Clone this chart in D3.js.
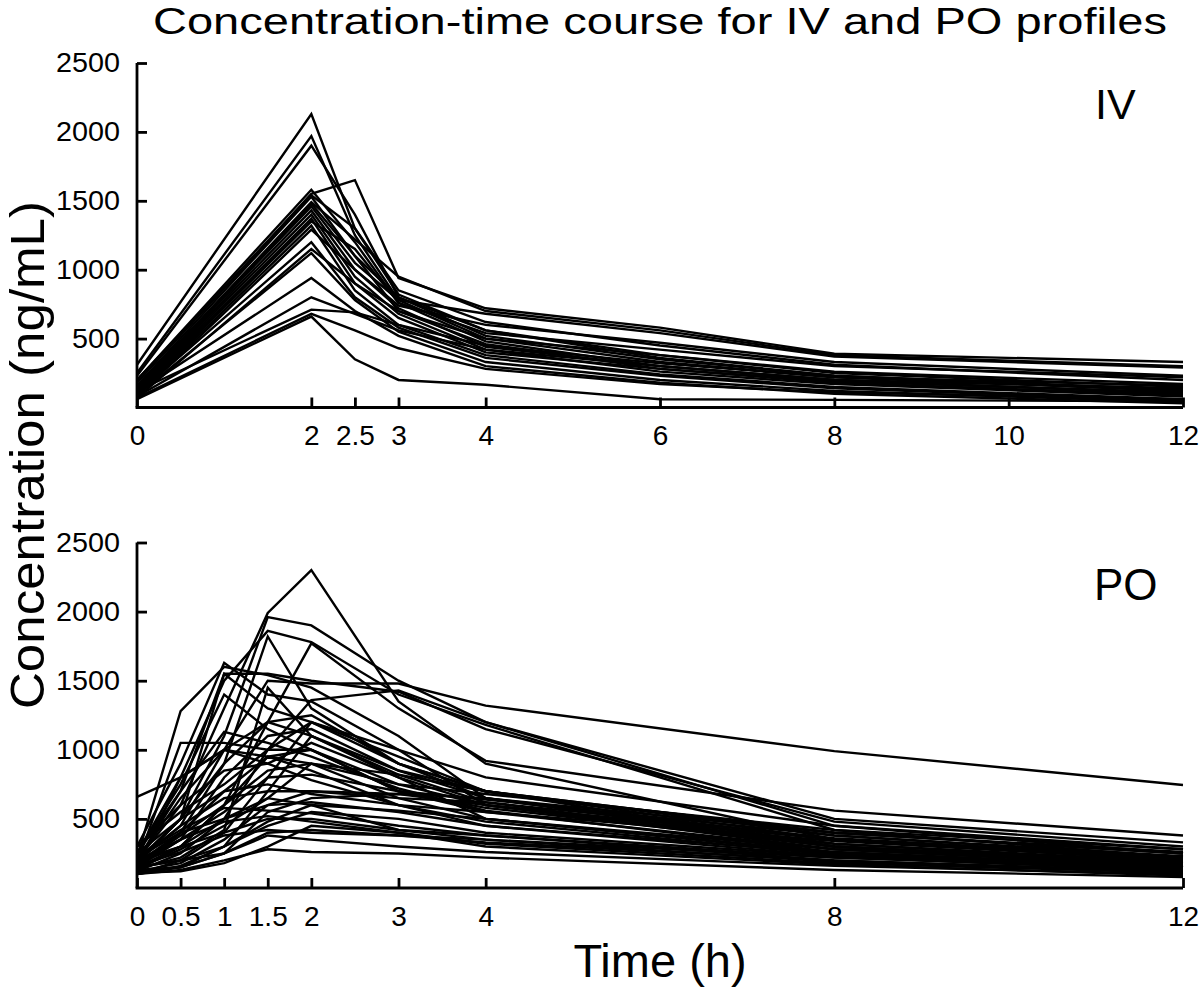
<!DOCTYPE html>
<html>
<head>
<meta charset="utf-8">
<script src="https://cdn.jsdelivr.net/npm/d3@7"></script>
<style>
  html, body { margin: 0; padding: 0; background: #fff; }
  svg { display: block; font-family: "Liberation Sans", Arial, sans-serif; }
</style>
</head>
<body>
<svg id="chart" width="1200" height="989"></svg>
<script>
// ---------- DATA ----------
const chartTitle = "Concentration-time course for IV and PO profiles";
const yLabel = "Concentration (ng/mL)";
const xLabel = "Time (h)";

const ivTicksX = [0, 2, 2.5, 3, 4, 6, 8, 10, 12];
const poTicksX = [0, 0.5, 1, 1.5, 2, 3, 4, 8, 12];
const yTicks = [500, 1000, 1500, 2000, 2500];

const ivTimes = [0, 2, 2.5, 3, 4, 6, 8, 12];
const ivConc = [
  [310, 2130, 1300, 820, 560, 380, 250, 150],
  [250, 1970, 1250, 780, 500, 330, 220, 120],
  [230, 1900, 1400, 800, 520, 350, 230, 130],
  [200, 1580, 1200, 760, 480, 300, 200, 100],
  [180, 1550, 1650, 940, 720, 580, 390, 330],
  [160, 1530, 1100, 700, 460, 280, 180, 90],
  [150, 1490, 1220, 950, 700, 560, 380, 300],
  [140, 1460, 1050, 780, 680, 540, 370, 290],
  [130, 1430, 1000, 720, 440, 300, 200, 100],
  [120, 1400, 950, 680, 420, 260, 170, 80],
  [110, 1370, 900, 650, 400, 280, 190, 110],
  [100, 1350, 1150, 760, 540, 420, 300, 220],
  [90, 1320, 850, 600, 380, 240, 150, 60],
  [80, 1290, 1000, 740, 600, 470, 330, 230],
  [100, 1200, 800, 580, 360, 230, 140, 50],
  [70, 1150, 900, 700, 500, 380, 260, 170],
  [90, 1120, 780, 550, 330, 200, 120, 40],
  [110, 940, 700, 520, 300, 180, 100, 30],
  [80, 800, 680, 560, 420, 300, 200, 140],
  [120, 710, 690, 600, 450, 320, 220, 160],
  [70, 680, 560, 430, 280, 170, 110, 60],
  [60, 660, 350, 200, 165, 60, 55, 45],
  [130, 1480, 1100, 800, 560, 360, 230, 120],
  [200, 1540, 1300, 850, 620, 450, 310, 200]
];

const poTimes = [0, 0.5, 1, 1.5, 2, 3, 4, 8, 12];
const poConc = [
  [200, 600, 1300, 1990, 2300, 1350, 900, 350, 200],
  [180, 500, 1100, 1960, 1900, 1500, 1200, 450, 250],
  [250, 800, 1500, 1860, 1780, 1400, 1180, 420, 220],
  [150, 400, 900, 1820, 1300, 900, 700, 300, 150],
  [220, 1280, 1600, 1540, 1450, 1100, 650, 320, 180],
  [300, 900, 1630, 1400, 1350, 1000, 600, 280, 160],
  [660, 800, 1000, 1500, 1480, 1480, 1320, 990, 745],
  [200, 700, 1550, 1550, 1500, 1420, 1150, 480, 300],
  [150, 300, 600, 1200, 1770, 1300, 920, 560, 380],
  [120, 250, 500, 1000, 1360, 1430, 1200, 500, 330],
  [180, 1050, 1050, 1000, 1000, 700, 580, 300, 180],
  [250, 700, 1130, 1050, 950, 720, 560, 260, 150],
  [200, 500, 900, 1200, 1250, 900, 700, 400, 250],
  [100, 200, 400, 800, 1200, 1000, 800, 450, 280],
  [150, 350, 800, 1100, 1150, 850, 650, 350, 200],
  [300, 600, 850, 900, 1050, 800, 600, 320, 190],
  [180, 400, 700, 950, 1000, 700, 550, 280, 160],
  [130, 300, 600, 850, 900, 650, 500, 250, 140],
  [200, 450, 650, 700, 700, 680, 650, 400, 260],
  [150, 200, 300, 700, 1100, 850, 700, 380, 220],
  [250, 500, 700, 750, 680, 600, 550, 340, 200],
  [100, 150, 250, 550, 650, 680, 600, 350, 210],
  [180, 300, 500, 600, 620, 550, 450, 250, 130],
  [120, 150, 300, 450, 550, 500, 400, 230, 120],
  [200, 300, 400, 500, 500, 420, 380, 200, 110],
  [150, 200, 250, 400, 420, 380, 350, 220, 140],
  [100, 130, 200, 280, 260, 250, 220, 130, 80],
  [130, 150, 250, 380, 350, 300, 260, 160, 100],
  [110, 120, 180, 300, 450, 400, 320, 180, 110],
  [220, 400, 500, 650, 600, 420, 350, 190, 120],
  [170, 350, 550, 800, 820, 700, 640, 380, 230],
  [140, 280, 450, 650, 900, 750, 680, 420, 280],
  [300, 550, 750, 1000, 1200, 900, 650, 300, 170],
  [160, 380, 600, 950, 850, 600, 450, 230, 140],
  [200, 650, 1000, 900, 780, 600, 480, 240, 150],
  [120, 180, 350, 600, 700, 650, 620, 360, 220],
  [250, 750, 1400, 1150, 1000, 750, 600, 300, 170],
  [180, 500, 1550, 1300, 1200, 950, 700, 350, 200],
  [140, 220, 420, 1450, 1100, 820, 620, 300, 160],
  [100, 160, 300, 480, 600, 560, 500, 280, 170],
  [200, 350, 480, 520, 480, 400, 300, 170, 90],
  [230, 420, 580, 560, 540, 450, 380, 220, 130],
  [160, 260, 380, 420, 400, 380, 330, 200, 120],
  [150, 800, 1000, 950, 900, 820, 700, 400, 250],
  [190, 450, 1000, 1200, 1100, 800, 500, 260, 150]
];

// ---------- LAYOUT ----------
const svg = d3.select("#chart");
const left = 137, right = 1183;
const panels = [
  { name: "IV", times: ivTimes, conc: ivConc, ticks: ivTicksX, top: 63, bottom: 407.5,
    labelX: 1095, labelY: 119, labelSize: 43 },
  { name: "PO", times: poTimes, conc: poConc, ticks: poTicksX, top: 542.5, bottom: 888,
    labelX: 1094, labelY: 600, labelSize: 44 }
];

const x = d3.scaleLinear().domain([0, 12]).range([left, right]);

panels.forEach(p => {
  const y = d3.scaleLinear().domain([0, 2500]).range([p.bottom, p.top]);
  const g = svg.append("g");

  const line = d3.line().x(d => x(d[0])).y(d => y(d[1]));
  g.append("g").selectAll("path")
    .data(p.conc.map(row => row.map((c, i) => [p.times[i], c])))
    .join("path")
    .attr("d", line)
    .attr("fill", "none")
    .attr("stroke", "#000")
    .attr("stroke-width", 2.4)
    .attr("stroke-linejoin", "miter");

  // y axis
  const yAxis = d3.axisLeft(y).tickValues(yTicks).tickSizeInner(-10).tickSizeOuter(0)
    .tickPadding(17).tickFormat(d3.format("d"));
  const ya = g.append("g").attr("transform", `translate(${left},0)`).call(yAxis);
  ya.select(".domain").attr("stroke-width", 2.8).attr("d", `M0,${p.bottom}V${p.top}`);
  ya.selectAll(".tick line").attr("stroke-width", 2.8);
  ya.selectAll(".tick text")
    .attr("font-size", 28)
    .attr("font-family", "Liberation Sans, Arial, sans-serif")
    .attr("fill", "#000")
    .attr("textLength", d => String(d).length * 16)
    .attr("lengthAdjust", "spacingAndGlyphs");

  // x axis
  const xAxis = d3.axisBottom(x).tickValues(p.ticks).tickSizeInner(-10).tickSizeOuter(0)
    .tickPadding(18).tickFormat(d => String(d));
  const xa = g.append("g").attr("transform", `translate(0,${p.bottom})`).call(xAxis);
  xa.select(".domain").attr("stroke-width", 2.8).attr("d", `M${left - 1.4},0H${right}`);
  xa.selectAll(".tick line").attr("stroke-width", 2.8);
  xa.selectAll(".tick text")
    .attr("font-size", 28)
    .attr("font-family", "Liberation Sans, Arial, sans-serif")
    .attr("fill", "#000");

  g.append("text")
    .attr("x", p.labelX).attr("y", p.labelY)
    .attr("font-size", p.labelSize)
    .attr("fill", "#000")
    .text(p.name);
});

// title
svg.append("text")
  .attr("x", 153).attr("y", 34)
  .attr("font-size", 37)
  .attr("textLength", 1014)
  .attr("lengthAdjust", "spacingAndGlyphs")
  .attr("fill", "#000")
  .text(chartTitle);

// y label
svg.append("text")
  .attr("transform", "translate(44,455) rotate(-90)")
  .attr("text-anchor", "middle")
  .attr("font-size", 48)
  .attr("textLength", 508)
  .attr("lengthAdjust", "spacingAndGlyphs")
  .attr("fill", "#000")
  .text(yLabel);

// x label
svg.append("text")
  .attr("x", 660).attr("y", 977)
  .attr("text-anchor", "middle")
  .attr("font-size", 47)
  .attr("fill", "#000")
  .text(xLabel);
</script>
</body>
</html>
